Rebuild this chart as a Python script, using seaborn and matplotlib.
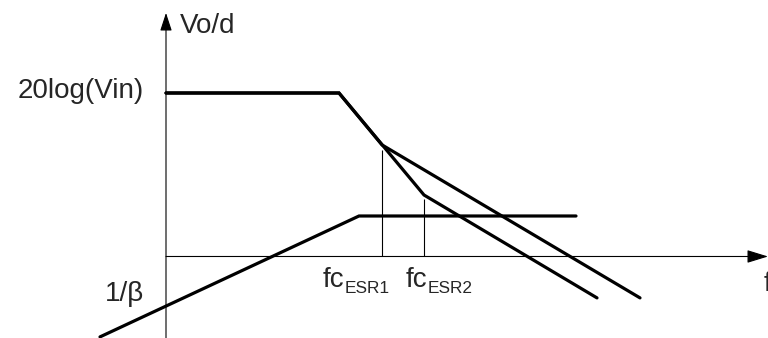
import matplotlib
matplotlib.use("Agg")
import matplotlib.pyplot as plt
import seaborn as sns
import pandas as pd

sns.set_theme(style="white")
plt.rcParams["font.family"] = ["Liberation Sans", "DejaVu Sans"]

# Asymptotic Bode magnitudes: x in decades of frequency, y in dB
esr1_logf = [0.0, 1.73, 2.16, 4.74]
esr1_db = [54.5, 54.5, 37.2, -13.8]
esr2_logf = [0.0, 1.73, 2.58, 4.31]
esr2_db = [54.5, 54.5, 20.5, -13.8]
loop_logf = [-0.66, 1.93, 4.10]
loop_db = [-26.8, 13.5, 13.5]

# Crossover markers (drawn from the axis up to the curve)
fc_logf = [2.16, 2.58]
fc_db = [35.5, 19.2]
fc_subs = ["ESR1", "ESR2"]

y_label = "Vo/d"
x_label = "f"
top_label = "20log(Vin)"
beta_label = "1/\u03b2"

frames = []
for name, xs, ys in [("esr1", esr1_logf, esr1_db),
                     ("esr2", esr2_logf, esr2_db),
                     ("loop", loop_logf, loop_db)]:
    frames.append(pd.DataFrame({"logf": xs, "db": ys, "curve": name}))
df = pd.concat(frames, ignore_index=True)

fig = plt.figure(figsize=(7.68, 3.38), dpi=100)
ax = fig.add_axes([0, 0, 1, 1])
ax.set_xlim(-1.66, 6.02)
ax.set_ylim(-27.17, 85.5)
ax.axis("off")

sns.lineplot(data=df, x="logf", y="db", hue="curve", units="curve",
             estimator=None, sort=False, legend=False,
             palette=["black"] * 3, linewidth=2.3, ax=ax,
             solid_joinstyle="miter")

# Axes with arrowheads
ax.annotate("", xy=(6.02, 0), xytext=(0, 0),
            arrowprops=dict(arrowstyle="-|>,head_length=1.3,head_width=0.4",
                            mutation_scale=10, color="black", lw=0.8,
                            shrinkA=0, shrinkB=0))
ax.annotate("", xy=(0, 81.2), xytext=(0, -27.5),
            arrowprops=dict(arrowstyle="-|>,head_length=1.1,head_width=0.36",
                            mutation_scale=10, color="black", lw=0.8,
                            shrinkA=0, shrinkB=0))

ax.vlines(fc_logf, 0, fc_db, colors="black", linewidth=0.8)

fs = 20
ax.text(0.14, 74.5, y_label, fontsize=fs, ha="left", va="baseline")
ax.text(-0.22, 52.7, top_label, fontsize=fs, ha="right", va="baseline")
ax.text(-0.61, -14.8, beta_label, fontsize=fs, ha="left", va="baseline")
ax.text(5.98, -11.5, x_label, fontsize=fs, ha="left", va="baseline")

fc_left = [1.57, 2.40]
for xl, sub in zip(fc_left, fc_subs):
    ax.text(xl, -10.2, "fc", fontsize=fs, ha="left", va="baseline")
    ax.text(xl + 0.22, -12.2, sub, fontsize=12.4, ha="left", va="baseline")

fig.savefig("out.png", dpi=100, facecolor="white")
